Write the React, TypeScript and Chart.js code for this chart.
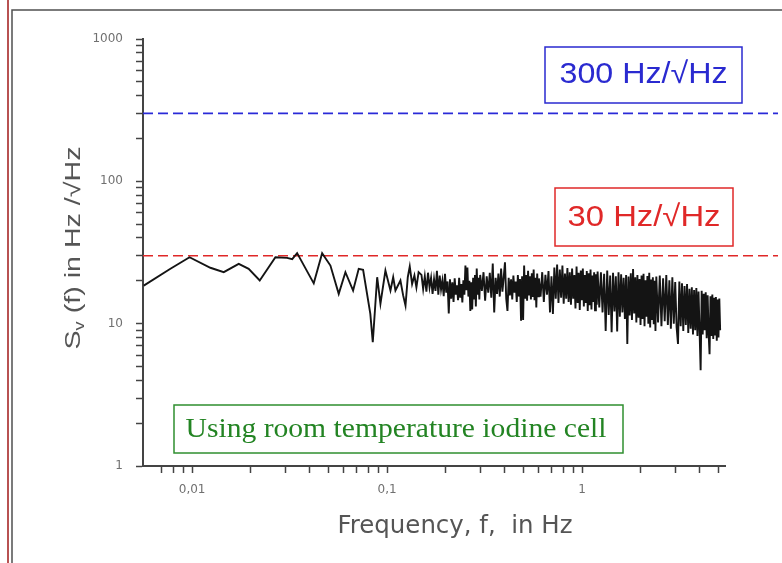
import React, { useEffect, useRef } from 'react';
import { Chart, registerables } from 'chart.js';

Chart.register(...registerables);

// ---------- data ----------
const lowFreq = [0.00565, 0.00774, 0.0097, 0.01241, 0.01453, 0.01734, 0.0195, 0.02222, 0.02674, 0.0307, 0.0326, 0.03455, 0.04204, 0.04642, 0.05119, 0.05646, 0.0611, 0.0669, 0.0715, 0.0753, 0.082, 0.0844, 0.0889, 0.0924, 0.098, 0.104, 0.1074, 0.1103, 0.117, 0.1208, 0.1242, 0.1276, 0.1306, 0.1343, 0.138, 0.1413, 0.145];
const lowVal = [18.5, 24.3, 29.3, 24.7, 23.0, 26.3, 24.3, 20.1, 29.3, 29.0, 28.4, 31.3, 19.2, 31.3, 25.6, 16.2, 23.0, 17.1, 24.3, 23.9, 11.7, 7.4, 21.2, 13.8, 23.6, 17.1, 21.2, 17.1, 20.1, 15.8, 13.4, 21.2, 25.2, 19.0, 21.8, 18.0, 23.0];

const bandFreq = [
  0.150, 0.153, 0.156, 0.159, 0.162, 0.165, 0.168, 0.171, 0.174, 0.177, 0.180, 0.183, 0.186, 0.189, 0.192, 0.195, 0.198, 0.201, 0.204, 0.207, 0.210, 0.213, 0.216, 0.219, 0.222, 0.225, 0.228, 0.231, 0.234, 0.237, 0.240, 0.243, 0.246, 0.249, 0.252, 0.255, 0.258, 0.261, 0.264, 0.267, 0.270, 0.273, 0.276, 0.279, 0.282, 0.285, 0.288, 0.291, 0.294, 0.297, 0.300,
  0.306, 0.312, 0.318, 0.324, 0.330, 0.336, 0.342, 0.348, 0.354, 0.360, 0.366, 0.372, 0.378, 0.384, 0.390, 0.396, 0.402, 0.408, 0.414, 0.420, 0.426, 0.432, 0.438, 0.444, 0.450, 0.456, 0.462, 0.468, 0.474, 0.480, 0.486, 0.492, 0.498, 0.504, 0.510, 0.516, 0.522, 0.528, 0.534, 0.540, 0.546, 0.552, 0.558, 0.564, 0.570, 0.576, 0.582, 0.588, 0.594, 0.600,
  0.612, 0.624, 0.636, 0.648, 0.660, 0.672, 0.684, 0.696, 0.708, 0.720, 0.732, 0.744, 0.756, 0.768, 0.780, 0.792, 0.804, 0.816, 0.828, 0.840, 0.852, 0.864, 0.876, 0.888, 0.900, 0.912, 0.924, 0.936, 0.948, 0.960, 0.972, 0.984, 0.996, 1.008, 1.020, 1.032, 1.044, 1.056, 1.068, 1.080, 1.092, 1.104, 1.116, 1.128, 1.140, 1.152, 1.164, 1.176, 1.188, 1.200,
  1.224, 1.248, 1.272, 1.296, 1.320, 1.344, 1.368, 1.392, 1.416, 1.440, 1.464, 1.488, 1.512, 1.536, 1.560, 1.584, 1.608, 1.632, 1.656, 1.680, 1.704, 1.728, 1.752, 1.776, 1.800, 1.824, 1.848, 1.872, 1.896, 1.920, 1.944, 1.968, 1.992, 2.016, 2.040, 2.064, 2.088, 2.112, 2.136, 2.160, 2.184, 2.208, 2.232, 2.256, 2.280, 2.304, 2.328, 2.352, 2.376, 2.400,
  2.45, 2.50, 2.55, 2.60, 2.65, 2.70, 2.75, 2.80, 2.85, 2.90, 2.95, 3.00, 3.05, 3.10, 3.15, 3.20, 3.25, 3.30, 3.35, 3.40, 3.45, 3.50, 3.55, 3.60, 3.65, 3.70, 3.75, 3.80, 3.85, 3.90, 3.95, 4.00, 4.05, 4.10, 4.15, 4.20, 4.25, 4.30, 4.35, 4.40, 4.45, 4.50, 4.55, 4.60, 4.65, 4.70, 4.75, 4.80, 4.85, 4.90, 4.95, 5.00, 5.05, 5.10,
];
const bandVal = [
  22.0, 17.5, 21.5, 16.8, 22.8, 18.0, 21.0, 16.2, 20.5, 17.0, 23.5, 16.0, 21.8, 17.4, 20.0, 15.6, 22.4, 16.5, 19.8, 11.8, 20.5, 15.0, 19.5, 14.2, 20.8, 16.0, 18.6, 14.6, 21.0, 15.2, 19.0, 14.1, 20.2, 16.0, 25.6, 17.2, 24.8, 15.5, 20.0, 12.3, 19.5, 12.6, 21.0, 15.0, 22.0, 13.2, 24.4, 16.0, 21.0, 14.8, 22.0,
  17.0, 23.0, 14.5, 21.5, 16.5, 22.8, 15.2, 26.5, 12.0, 21.0, 16.2, 22.5, 15.5, 24.4, 16.8, 21.2, 27.0, 15.0, 12.3, 21.0, 15.8, 20.5, 14.8, 21.8, 16.5, 19.8, 14.2, 22.0, 15.5, 20.6, 10.5, 21.5, 10.6, 25.6, 15.0, 22.0, 14.5, 23.5, 16.0, 21.5, 14.8, 22.6, 15.4, 24.0, 14.6, 21.0, 13.0, 22.5, 15.6, 20.8,
  15.5, 23.0, 14.2, 22.0, 16.0, 23.4, 12.0, 21.5, 11.7, 24.8, 15.0, 26.0, 14.0, 24.0, 15.2, 25.6, 13.8, 22.5, 15.0, 24.6, 14.2, 23.0, 13.6, 24.4, 15.0, 22.0, 12.8, 25.2, 14.0, 22.8, 12.5, 23.6, 14.6, 24.4, 13.2, 22.0, 14.0, 23.4, 12.3, 22.6, 13.5, 24.0, 12.6, 21.8, 14.2, 23.0, 12.4, 22.2, 13.6, 23.2,
  13.0, 23.0, 12.0, 22.4, 8.9, 23.6, 11.5, 21.8, 8.7, 22.8, 12.2, 21.5, 8.8, 23.0, 11.2, 22.2, 12.0, 21.0, 10.8, 22.0, 7.2, 21.4, 11.4, 22.6, 10.6, 24.2, 11.8, 21.2, 10.2, 22.0, 11.0, 20.6, 9.8, 21.8, 10.8, 22.4, 9.6, 20.2, 11.2, 21.6, 10.0, 22.8, 9.4, 20.4, 10.6, 21.2, 9.9, 20.0, 8.9, 21.4,
  10.2, 21.8, 9.6, 20.8, 10.4, 22.0, 9.8, 20.2, 9.2, 21.2, 10.0, 19.6, 9.4, 7.2, 19.8, 9.6, 19.2, 8.9, 18.4, 9.8, 19.0, 8.6, 17.6, 9.2, 18.0, 8.4, 17.2, 9.0, 17.8, 8.2, 16.8, 8.8, 4.7, 17.0, 8.4, 16.2, 9.0, 16.6, 7.9, 15.8, 8.6, 6.1, 15.6, 8.2, 16.0, 7.8, 15.2, 8.4, 15.4, 7.6, 14.8, 8.0, 15.0, 9.0,
];

const thresholdValues = [300, 30];
const thresholdLabels = ['300 Hz/√Hz', '30 Hz/√Hz'];
const noteText = 'Using room temperature iodine cell';
const xMajorTicks = [0.01, 0.1, 1];
const xMajorLabels = ['0,01', '0,1', '1'];
const yMajorTicks = [1, 10, 100, 1000];
const yMajorLabels = ['1', '10', '100', '1000'];
const xTitle = 'Frequency, f,  in Hz';
const yTitleMain = 'S';
const yTitleSub = 'v';
const yTitleRest = ' (f) in Hz /√Hz';

// ---------- helpers ----------
function labelFor(v: number, ticks: number[], labels: string[]) {
  for (let i = 0; i < ticks.length; i++) {
    if (Math.abs(v / ticks[i] - 1) < 1e-6) return labels[i];
  }
  return '';
}

function isNiceLog(v: number) {
  const e = Math.pow(10, Math.floor(Math.log10(v) + 1e-9));
  const s = v / e;
  return Math.abs(s - Math.round(s)) < 1e-6;
}

function drawFitted(ctx: CanvasRenderingContext2D, text: string, cx: number, cy: number, width: number, font: string, color: string) {
  ctx.save();
  ctx.font = font;
  const w = ctx.measureText(text).width;
  ctx.translate(cx, cy);
  ctx.scale(width / w, 1);
  ctx.fillStyle = color;
  ctx.textAlign = 'center';
  ctx.textBaseline = 'middle';
  ctx.fillText(text, 0, 0);
  ctx.restore();
}

const decorPlugin = {
  id: 'decor',
  beforeDraw(chart: any) {
    const ctx: CanvasRenderingContext2D = chart.ctx;
    const W = chart.width, H = chart.height;
    ctx.save();
    ctx.fillStyle = '#ffffff';
    ctx.fillRect(0, 0, W, H);
    ctx.strokeStyle = '#a01818';
    ctx.lineWidth = 1.5;
    ctx.beginPath();
    ctx.moveTo(8, 0);
    ctx.lineTo(8, H);
    ctx.stroke();
    ctx.strokeStyle = '#505050';
    ctx.lineWidth = 1.5;
    ctx.beginPath();
    ctx.moveTo(W, 10);
    ctx.lineTo(12, 10);
    ctx.lineTo(12, H);
    ctx.stroke();
    ctx.restore();
  },
  beforeDatasetsDraw(chart: any) {
    const ctx: CanvasRenderingContext2D = chart.ctx;
    const ys = chart.scales.y;
    const colors = ['#2a2ad8', '#e02828'];
    ctx.save();
    thresholdValues.forEach((v, i) => {
      const py = ys.getPixelForValue(v);
      ctx.strokeStyle = colors[i];
      ctx.lineWidth = 1.7;
      ctx.setLineDash([10, 5]);
      ctx.beginPath();
      ctx.moveTo(chart.chartArea.left, py);
      ctx.lineTo(778, py);
      ctx.stroke();
    });
    ctx.restore();
  },
  afterDraw(chart: any) {
    const ctx: CanvasRenderingContext2D = chart.ctx;
    ctx.save();
    const boxes = [
      { x: 545, y: 47, w: 197, h: 56, color: '#2a2ad0', tw: 168, ty: 75 },
      { x: 555, y: 188, w: 178, h: 58, color: '#e02828', tw: 153, ty: 218 },
    ];
    boxes.forEach((b, i) => {
      ctx.fillStyle = '#ffffff';
      ctx.fillRect(b.x, b.y, b.w, b.h);
      ctx.strokeStyle = b.color;
      ctx.lineWidth = 1.5;
      ctx.strokeRect(b.x, b.y, b.w, b.h);
      drawFitted(ctx, thresholdLabels[i], b.x + b.w / 2, b.ty, b.tw, '30px "Liberation Sans"', b.color);
    });
    ctx.fillStyle = '#ffffff';
    ctx.fillRect(174, 405, 449, 48);
    ctx.strokeStyle = '#2f8f2f';
    ctx.lineWidth = 1.5;
    ctx.strokeRect(174, 405, 449, 48);
    drawFitted(ctx, noteText, 396, 430, 421, '28px "Liberation Serif"', '#238423');

    drawFitted(ctx, xTitle, 455, 527, 235, '24px "DejaVu Sans"', '#555555');

    ctx.translate(72, 248);
    ctx.rotate(-Math.PI / 2);
    const big = '22px "Liberation Sans"';
    const small = '14px "Liberation Sans"';
    ctx.font = big;
    const wS = ctx.measureText(yTitleMain).width;
    const wR = ctx.measureText(yTitleRest).width;
    ctx.font = small;
    const wv = ctx.measureText(yTitleSub).width;
    const total = wS + wv + wR;
    ctx.scale(203 / total, 1);
    ctx.fillStyle = '#555555';
    ctx.textAlign = 'left';
    ctx.textBaseline = 'alphabetic';
    const x0 = -total / 2;
    ctx.font = big;
    ctx.fillText(yTitleMain, x0, 8);
    ctx.font = small;
    ctx.fillText(yTitleSub, x0 + wS, 12);
    ctx.font = big;
    ctx.fillText(yTitleRest, x0 + wS + wv, 8);
    ctx.restore();
  },
};

export default function App() {
  const canvasRef = useRef<HTMLCanvasElement | null>(null);

  useEffect(() => {
    if (!canvasRef.current) return;
    const points: { x: number; y: number }[] = [];
    lowFreq.forEach((f, i) => points.push({ x: f, y: lowVal[i] }));
    const n = Math.min(bandFreq.length, bandVal.length);
    for (let i = 0; i < n; i++) points.push({ x: bandFreq[i], y: bandVal[i] });

    const tickFont = { family: '"DejaVu Sans"', size: 12 };
    const chart = new Chart(canvasRef.current, {
      type: 'line',
      data: {
        datasets: [
          {
            data: points,
            borderColor: '#141414',
            borderWidth: 1.9,
            pointRadius: 0,
            tension: 0,
            fill: false,
          },
        ],
      },
      options: {
        responsive: false,
        animation: false,
        events: [],
        layout: { padding: { left: 0, top: 39, right: 57, bottom: 0 } },
        plugins: { legend: { display: false }, tooltip: { enabled: false }, title: { display: false } },
        scales: {
          x: {
            type: 'logarithmic',
            min: 0.0056,
            max: 5.4,
            afterBuildTicks: (scale: any) => {
              scale.ticks = scale.ticks.filter((t: any) => isNiceLog(t.value));
            },
            afterFit: (scale: any) => {
              scale.height = 97;
            },
            grid: { display: true, drawOnChartArea: false, drawTicks: true, tickLength: 7, tickColor: '#444444', tickWidth: 1.5 },
            border: { display: true, color: '#444444', width: 2 },
            ticks: {
              autoSkip: false,
              maxRotation: 0,
              minRotation: 0,
              padding: 10,
              color: '#707070',
              font: tickFont,
              callback: (v: any) => labelFor(Number(v), xMajorTicks, xMajorLabels),
            },
          },
          y: {
            type: 'logarithmic',
            min: 1,
            max: 1000,
            afterBuildTicks: (scale: any) => {
              scale.ticks = scale.ticks.filter((t: any) => isNiceLog(t.value));
            },
            afterFit: (scale: any) => {
              scale.width = 143;
            },
            grid: { display: true, drawOnChartArea: false, drawTicks: true, tickLength: 7, tickColor: '#444444', tickWidth: 1.5 },
            border: { display: true, color: '#444444', width: 2 },
            ticks: {
              autoSkip: false,
              padding: 13,
              color: '#707070',
              font: tickFont,
              callback: (v: any) => labelFor(Number(v), yMajorTicks, yMajorLabels),
            },
          },
        },
      } as any,
      plugins: [decorPlugin],
    });
    return () => chart.destroy();
  }, []);

  return (
    <div style={{ position: 'fixed', left: 0, top: 0, width: 782, height: 563, background: '#fff' }}>
      <canvas ref={canvasRef} width={782} height={563} style={{ display: 'block' }} />
    </div>
  );
}
